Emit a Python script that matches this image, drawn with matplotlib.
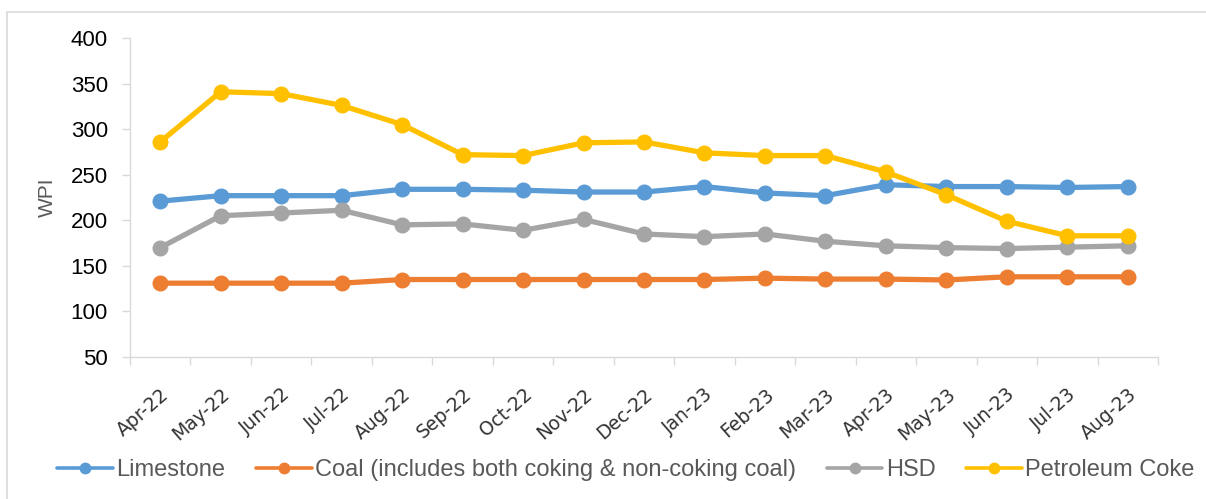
import matplotlib
matplotlib.use("Agg")
import matplotlib.pyplot as plt
from matplotlib.patches import Rectangle
from matplotlib.lines import Line2D

months = ["Apr-22", "May-22", "Jun-22", "Jul-22", "Aug-22", "Sep-22", "Oct-22", "Nov-22",
          "Dec-22", "Jan-23", "Feb-23", "Mar-23", "Apr-23", "May-23", "Jun-23", "Jul-23", "Aug-23"]
limestone = [221, 227, 227, 227, 234, 234, 233, 231, 231, 237, 230, 227, 239, 237, 237, 236, 237]
coal = [131, 131, 131, 131, 135, 135, 135, 135, 135, 135, 136.5, 135.5, 135.5, 134.5, 138, 138, 138]
hsd = [170, 205, 208, 211, 195, 196, 189, 201, 185, 182, 185, 177, 172, 170, 169, 170.5, 172]
pet_coke = [286, 341, 339, 326, 305, 272, 271, 285, 286, 274, 271, 271, 253, 228, 199, 183, 183]

series_names = ["Limestone", "Coal (includes both coking & non-coking coal)", "HSD", "Petroleum Coke"]
series_colors = ["#5B9BD5", "#ED7D31", "#A5A5A5", "#FFC000"]

plt.rcParams["font.family"] = ["Liberation Sans", "DejaVu Sans"]

fig = plt.figure(figsize=(12.06, 4.99), dpi=100)
ax = fig.add_axes([130 / 1206, 1 - 357 / 499, 1028 / 1206, 319 / 499])

# outer chart frame
fig.patches.append(Rectangle((7 / 1206, -0.01), 1.2, 1 - 12 / 499 + 0.01, transform=fig.transFigure,
                             fill=False, edgecolor="#D9D9D9", linewidth=1.2))

x = list(range(len(months)))
for vals, name, col in zip([limestone, coal, hsd, pet_coke], series_names, series_colors):
    ax.plot(x, vals, color=col, linewidth=3.8, marker="o", markersize=10.5, label=name,
            solid_capstyle="round", solid_joinstyle="round")

ax.set_xlim(-0.5, len(months) - 0.5)
ax.set_ylim(50, 400)
ax.set_yticks(range(50, 401, 50))
ax.set_yticklabels([str(v) for v in range(50, 401, 50)], fontsize=16, color="black")
ax.set_xticks(x)
ax.set_xticklabels(months, rotation=41, ha="right", rotation_mode="anchor", fontsize=13.5,
                   color="#333333", family="DejaVu Sans")
ax.tick_params(axis="x", length=0, pad=20)
ax.set_xticks([i - 0.5 for i in range(len(months) + 1)], minor=True)
ax.tick_params(axis="x", which="minor", length=6, color="#D9D9D9", width=1)
ax.tick_params(axis="y", length=6, color="#D9D9D9", width=1, pad=10)

for side in ["top", "right"]:
    ax.spines[side].set_visible(False)
for side in ["left", "bottom"]:
    ax.spines[side].set_color("#D9D9D9")
    ax.spines[side].set_linewidth(1)

ax.set_ylabel("WPI", fontsize=15, color="#595959")
ax.yaxis.set_label_coords(-73 / 1028, 0.5)

handles = [Line2D([], [], color=c, linewidth=2.6, marker="o", markersize=7.5,
                  solid_capstyle="round") for c in series_colors]
leg = fig.legend(handles, series_names, loc="center", bbox_to_anchor=(626 / 1206, 1 - 470 / 499),
                 ncol=4, frameon=False, handlelength=2.35, handletextpad=0.15, columnspacing=1.3,
                 prop={"size": 17})
for t in leg.get_texts():
    t.set_color("#595959")

fig.savefig("out.png", dpi=100)
